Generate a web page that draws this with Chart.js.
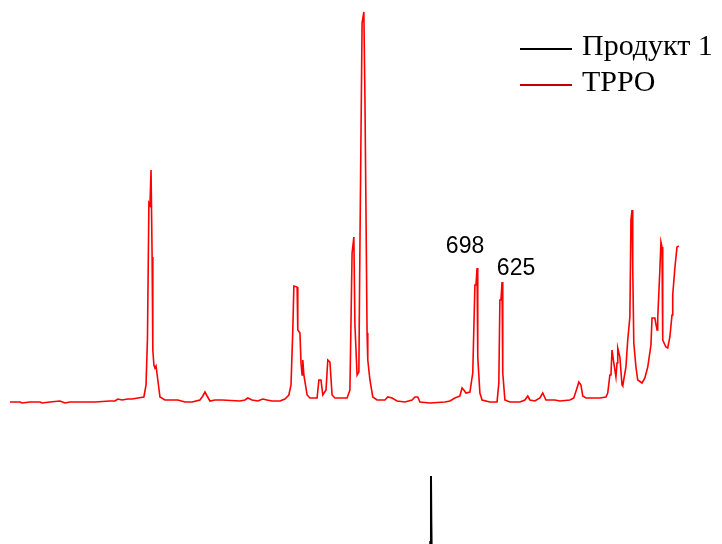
<!DOCTYPE html>
<html>
<head>
<meta charset="utf-8">
<script src="https://cdn.jsdelivr.net/npm/chart.js@4"></script>
<style>
  body { margin: 0; background: #fff; }
  #wrap { width: 722px; height: 544px; }
</style>
</head>
<body>
<div id="wrap"><canvas id="spectrumChart" width="722" height="544"></canvas></div>
<script>
// Raman shift (cm-1) and intensity (a.u.)
const tppoShift = [
  1992, 1964, 1958, 1936, 1908, 1902, 1880, 1852, 1838, 1824, 1796, 1754,
  1712, 1698, 1690, 1678, 1662, 1650, 1634, 1617, 1611, 1607, 1603, 1600,
  1597, 1594, 1592, 1589, 1586, 1583, 1578, 1572, 1558, 1522, 1502, 1482,
  1460, 1452, 1446, 1440, 1432, 1418, 1398, 1348, 1334, 1326, 1314, 1298,
  1284, 1272, 1258, 1236, 1222, 1211, 1205, 1200, 1197, 1188, 1186, 1180,
  1177, 1174, 1172, 1169, 1160, 1152, 1132, 1127, 1121, 1116, 1107, 1102,
  1096, 1090, 1082, 1048, 1040, 1034, 1029, 1026, 1020, 1015, 1012, 1006,
  1004, 1001, 998, 995, 992, 990, 984, 976, 964, 942, 934, 922,
  908, 886, 866, 858, 850, 844, 816, 774, 760, 746, 732, 726,
  721, 715, 704, 696, 690, 687, 684, 682, 676, 670, 648, 628,
  623, 620, 617, 614, 612, 606, 592, 564, 550, 542, 536, 522,
  508, 500, 491, 466, 452, 424, 413, 404, 399, 393, 388, 379,
  340, 323, 318, 312, 309, 306, 301, 295, 292, 290, 284, 278,
  276, 267, 262, 256, 253, 250, 248, 245, 239, 234, 222, 214,
  206, 197, 194, 186, 180, 178, 172, 169, 166, 164, 155, 150,
  144, 138, 136, 130, 124, 122, 119
];
const tppoIntensity = [
  0, 0, -1, 0, 0, -1, 0, 1, -1, 0, 0, 0,
  1, 1, 3, 2, 3, 3, 4, 5, 17, 64, 199, 197,
  232, 145, 52, 37, 34, 36, 22, 5, 2, 2, 0, 0,
  2, 6, 10, 6, 1, 2, 2, 1, 2, 4, 2, 1,
  3, 2, 1, 1, 3, 7, 17, 72, 116, 115, 72, 69,
  39, 27, 42, 27, 7, 4, 4, 22, 22, 7, 12, 42,
  40, 7, 4, 4, 12, 149, 165, 77, 27, 30, 155, 379,
  379, 390, 305, 189, 69, 42, 22, 5, 2, 2, 5, 4,
  1, 0, 2, 5, 5, 0, -1, 0, 1, 4, 6, 14,
  12, 9, 10, 29, 117, 117, 134, 45, 9, 2, 0, 0,
  19, 102, 102, 120, 29, 2, 0, 0, 2, 6, 2, 1,
  4, 9, 2, 2, 1, 2, 4, 14, 20, 17, 6, 4,
  4, 5, 9, 27, 27, 52, 39, 25, 39, 54, 45, 17,
  16, 35, 62, 85, 182, 192, 134, 59, 35, 22, 19, 24,
  35, 57, 84, 84, 72, 84, 132, 160, 155, 62, 55, 54,
  65, 87, 107, 134, 155, 155, 156
];
const productShift = [1992, 1200, 900, 830, 818, 815, 813, 812, 809, 800, 500, 5];
const productIntensity = [-260, -258, -255, -250, -200, -140, -74, -120, -210, -250, -256, -260];

const seriesNames = ["Продукт 1", "TPPO"];
const lineColors = ["#000000", "#ff0000"];
const legendColors = ["#000000", "#c00000"];

const peakLabels = ["698", "625"];
const peakShifts = [684, 614];

const toPoints = (xs, ys) => xs.map((x, i) => ({ x: x, y: ys[i] }));

// legend in the top right corner
const legendPlugin = {
  id: "cornerLegend",
  afterDraw(chart) {
    const c = chart.ctx;
    c.save();
    c.font = '30px "Liberation Serif", "Times New Roman", serif';
    c.textBaseline = "alphabetic";
    chart.data.datasets.forEach((ds, i) => {
      const base = 55 + i * 36;
      c.strokeStyle = legendColors[i];
      c.lineWidth = 2;
      c.beginPath();
      c.moveTo(520, base - 6);
      c.lineTo(572, base - 6);
      c.stroke();
      c.fillStyle = "#000";
      c.fillText(ds.label, 582, base);
    });
    c.restore();
  },
};

// peak labels next to the TPPO bands
const peakLabelPlugin = {
  id: "peakLabels",
  afterDatasetsDraw(chart) {
    const c = chart.ctx;
    const xs = chart.scales.x;
    const ys = chart.scales.y;
    c.save();
    c.font = '23px "Liberation Sans", Arial, sans-serif';
    c.fillStyle = "#000";
    c.textAlign = "center";
    c.textBaseline = "middle";
    const offsets = [[-12, -21], [14, -13]];
    peakLabels.forEach((txt, i) => {
      const idx = tppoShift.indexOf(peakShifts[i]);
      const px = xs.getPixelForValue(peakShifts[i]);
      const py = ys.getPixelForValue(tppoIntensity[idx]);
      c.fillText(txt, px + offsets[i][0], py + offsets[i][1]);
    });
    c.restore();
  },
};

new Chart(document.getElementById("spectrumChart").getContext("2d"), {
  type: "line",
  data: {
    datasets: [
      {
        label: seriesNames[0],
        data: toPoints(productShift, productIntensity),
        borderColor: lineColors[0],
        borderWidth: 2,
        pointRadius: 0,
        tension: 0,
      },
      {
        label: seriesNames[1],
        data: toPoints(tppoShift, tppoIntensity),
        borderColor: lineColors[1],
        borderWidth: 1.6,
        pointRadius: 0,
        tension: 0,
      },
    ],
  },
  options: {
    responsive: false,
    animation: false,
    layout: { padding: 0 },
    scales: {
      x: { type: "linear", reverse: true, min: -2, max: 2020, display: false },
      y: { min: -142, max: 402, display: false },
    },
    plugins: {
      legend: { display: false },
      tooltip: { enabled: false },
    },
  },
  plugins: [legendPlugin, peakLabelPlugin],
});
</script>
</body>
</html>
